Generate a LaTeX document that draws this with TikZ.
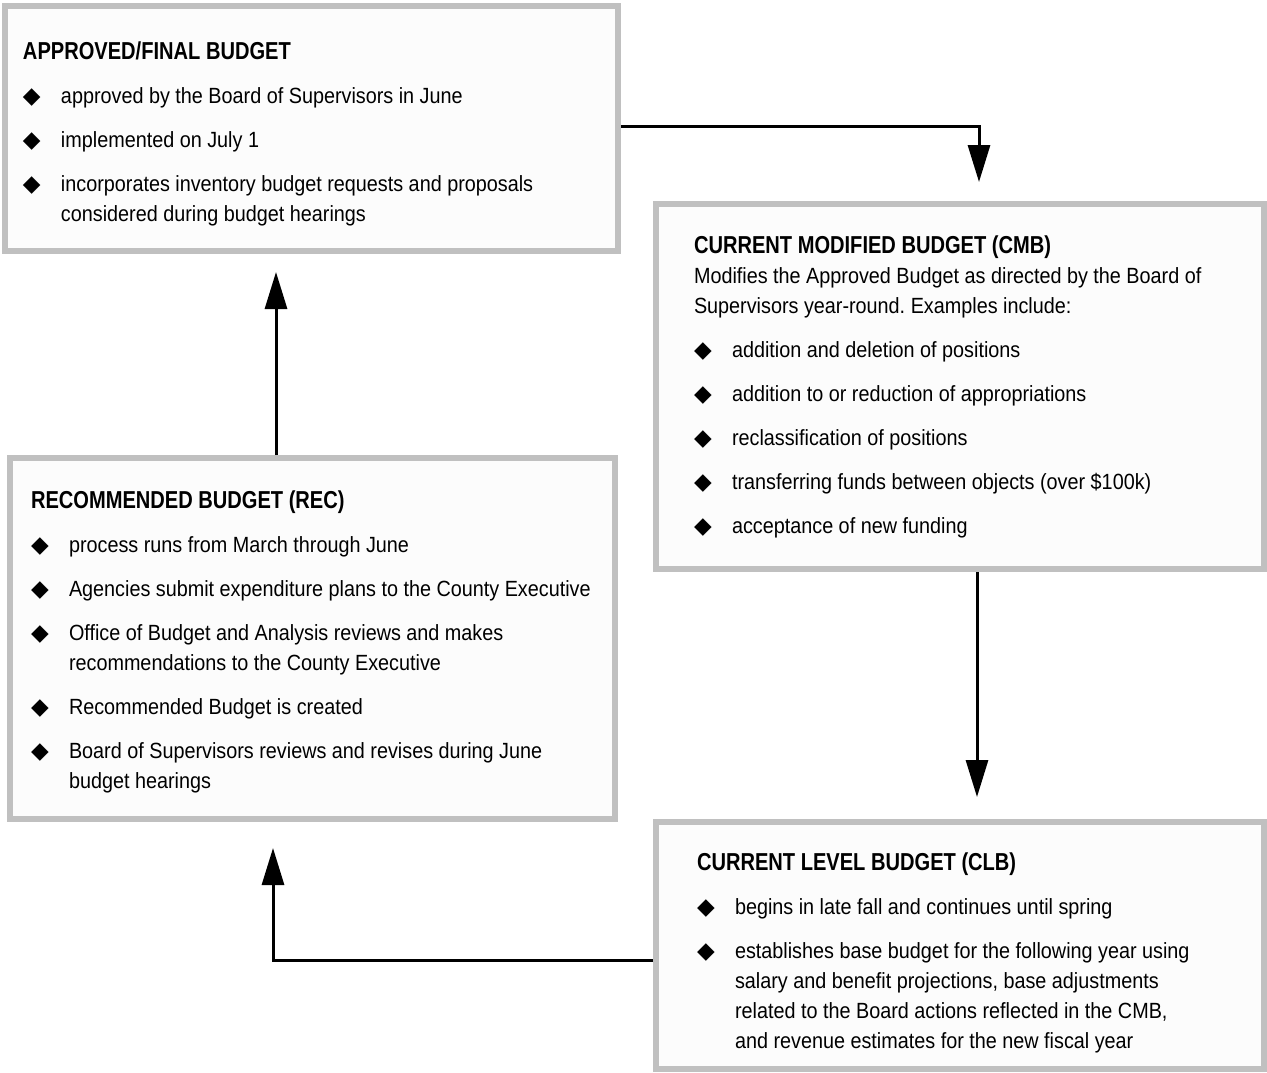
\documentclass[tikz,border=0pt]{standalone}
\usepackage{fontspec}
\setmainfont{Liberation Sans}[FakeStretch=0.9, BoldFeatures={FakeStretch=0.82}]
\newfontfamily\symf{DejaVu Sans}
\usetikzlibrary{arrows.meta}
\definecolor{boxborder}{HTML}{C0C0C0}
\definecolor{boxfill}{HTML}{FCFCFC}
\newcommand\bul{{\symf\fontsize{23pt}{30pt}\selectfont ◆}}
\newcommand\bitem[1]{\par\hangindent=38pt\hangafter=1\noindent\makebox[38pt][l]{\bul}#1}
\newcommand\boxtitle[1]{{\bfseries\fontsize{24.5pt}{30pt}\selectfont #1}}
\newcommand\content[1]{\parbox[t]{600pt}{\fontsize{22pt}{30pt}\selectfont\frenchspacing\setlength\parskip{14pt}\raggedright #1}}
\tikzset{
  budgetbox/.style={draw=boxborder, fill=boxfill, line width=6pt, inner sep=0pt, rectangle},
  boxtext/.style={anchor=base west, inner sep=0pt, outer sep=0pt},
  flow/.style={line width=3pt, -{Triangle[length=37pt,width=22pt]}}
}
\begin{document}
\begin{tikzpicture}[x=1pt,y=-1pt]
\useasboundingbox[fill=white] (0,0) rectangle (1267,1072);
% boxes
\node[budgetbox, minimum width=613pt, minimum height=245pt] (a) at (311.5,128.5) {};
\node[budgetbox, minimum width=608pt, minimum height=365pt] (cmb) at (960,386.5) {};
\node[budgetbox, minimum width=605pt, minimum height=361pt] (rec) at (312.5,638.5) {};
\node[budgetbox, minimum width=608pt, minimum height=247pt] (clb) at (960,945.5) {};
% texts
\node[boxtext] (ta) at (23,59) {\content{%
\boxtitle{APPROVED/FINAL BUDGET}
\bitem{approved by the Board of Supervisors in June}
\bitem{implemented on July 1}
\bitem{incorporates inventory budget requests and proposals\newline considered during budget hearings}}};
\node[boxtext] (tcmb) at (694,253) {\content{%
\boxtitle{CURRENT MODIFIED BUDGET (CMB)}\newline
Modifies the Approved Budget as directed by the Board of\newline Supervisors year-round. Examples include:
\bitem{addition and deletion of positions}
\bitem{addition to or reduction of appropriations}
\bitem{reclassification of positions}
\bitem{transferring funds between objects (over \$100k)}
\bitem{acceptance of new funding}}};
\node[boxtext] (trec) at (31,508) {\content{%
\boxtitle{RECOMMENDED BUDGET (REC)}
\bitem{process runs from March through June}
\bitem{Agencies submit expenditure plans to the County Executive}
\bitem{Office of Budget and Analysis reviews and makes\newline recommendations to the County Executive}
\bitem{Recommended Budget is created}
\bitem{Board of Supervisors reviews and revises during June\newline budget hearings}}};
\node[boxtext] (tclb) at (697,870) {\content{%
\boxtitle{CURRENT LEVEL BUDGET (CLB)}
\bitem{begins in late fall and continues until spring}
\bitem{establishes base budget for the following year using\newline salary and benefit projections, base adjustments\newline related to the Board actions reflected in the CMB,\newline and revenue estimates for the new fiscal year}}};
% connectors
\draw[flow, shorten >=19pt] (a.east |- 0,126) -| ([xshift=19pt]cmb.north);
\draw[flow, shorten >=22pt] ([xshift=17pt]cmb.south) -- ([xshift=17pt]clb.north);
\draw[flow, shorten >=26pt] (clb.west |- 0,960) -| ([xshift=-39.5pt]rec.south);
\draw[flow, shorten >=18pt] ([xshift=-36.5pt]rec.north) coordinate (s4) -- (s4 |- a.south);
\end{tikzpicture}
\end{document}
